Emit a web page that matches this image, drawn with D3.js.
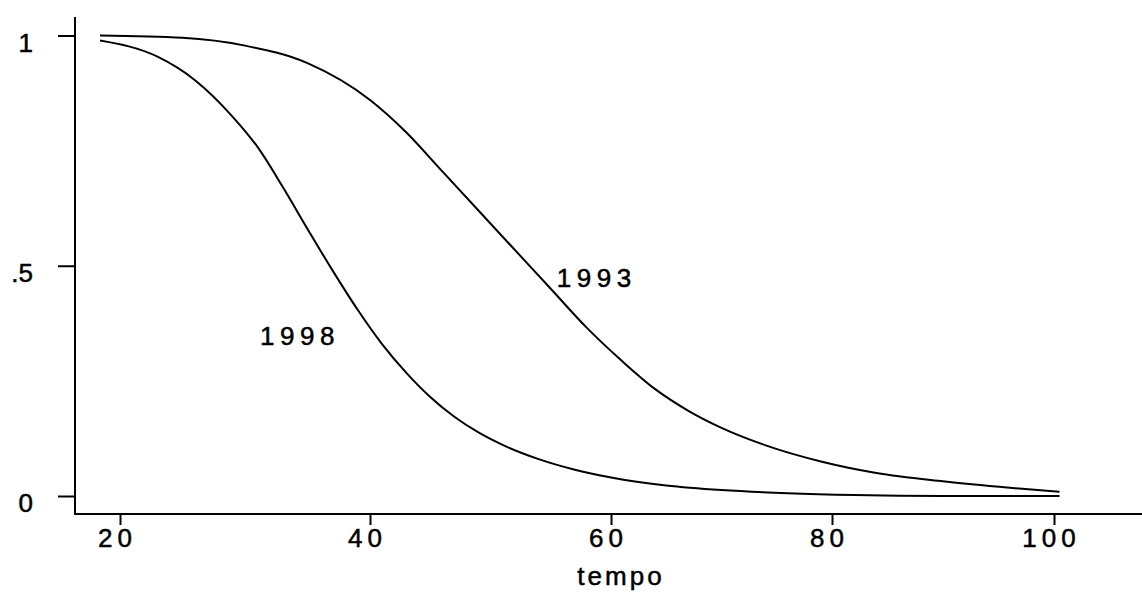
<!DOCTYPE html>
<html>
<head>
<meta charset="utf-8">
<script src="https://cdn.jsdelivr.net/npm/d3@7"></script>
<style>
  html, body { margin: 0; padding: 0; background: #fff; }
  svg { display: block; }
  text { font-family: "Liberation Sans", Arial, Helvetica, sans-serif; fill: #000; }
</style>
</head>
<body>
<script>
// ---- data ----
const xTicks = [20, 40, 60, 80, 100];
const yTicks = [0, 0.5, 1];
const yTickLabels = ["0", ".5", "1"];
const xLabel = "tempo";

const time1993 = [18.4, 25, 30, 35, 40, 43, 46, 49, 52, 55, 58, 61, 64, 67, 70, 74, 79, 84, 90, 96, 100.5];
const surv1993 = [1.000, 0.995, 0.978, 0.940, 0.860, 0.790, 0.705, 0.620, 0.535, 0.450, 0.365, 0.293, 0.232, 0.185, 0.148, 0.110, 0.075, 0.050, 0.032, 0.018, 0.009];

const time1998 = [18.4, 23, 26, 29, 31, 33, 35, 37, 39, 41, 43, 45, 47, 49, 51, 54, 57, 61, 65, 70, 76, 82, 90, 100.5];
const surv1998 = [0.989, 0.954, 0.903, 0.824, 0.758, 0.672, 0.580, 0.490, 0.405, 0.330, 0.268, 0.215, 0.172, 0.138, 0.111, 0.080, 0.057, 0.036, 0.023, 0.013, 0.006, 0.002, 0.000, 0.000];

const seriesNames = ["1993", "1998"];
const labelAt = [{ x: 55.5, y: 0.454 }, { x: 31.2, y: 0.328 }]; // label anchor positions in data units

// ---- drawing ----
const W = 1142, H = 593;
const svg = d3.select("body").append("svg").attr("width", W).attr("height", H);

const x = d3.scaleLinear().domain(xTicks).range([120, 370, 611, 832, 1054]);
const y = d3.scaleLinear().domain([0, 1]).range([496, 35.5]);

const axisLeftX = 75, axisBottomY = 514;
const textStroke = 0.5;

// y axis
const yAxis = svg.append("g").attr("transform", `translate(${axisLeftX},0)`)
  .call(d3.axisLeft(y).tickValues(yTicks).tickSize(17).tickPadding(25)
        .tickFormat((d, i) => yTickLabels[i]));
yAxis.select(".domain").remove();
yAxis.selectAll(".tick line").attr("stroke", "#000").attr("stroke-width", 2);
yAxis.selectAll(".tick text").attr("font-size", 26).attr("dy", "0.6em")
  .attr("stroke", "#000").attr("stroke-width", textStroke);
svg.append("line").attr("x1", axisLeftX).attr("x2", axisLeftX).attr("y1", 17).attr("y2", axisBottomY)
  .attr("stroke", "#000").attr("stroke-width", 2);

// x axis
const xAxis = svg.append("g").attr("transform", `translate(0,${axisBottomY})`)
  .call(d3.axisBottom(x).tickValues(xTicks).tickSize(11).tickPadding(4).tickFormat(d3.format("d")));
xAxis.select(".domain").remove();
xAxis.selectAll(".tick line").attr("stroke", "#000").attr("stroke-width", 2);
xAxis.selectAll(".tick text").attr("font-size", 26).attr("letter-spacing", "5px").attr("dx", "-3px")
  .attr("stroke", "#000").attr("stroke-width", textStroke);
svg.append("line").attr("x1", axisLeftX - 1).attr("x2", W).attr("y1", axisBottomY).attr("y2", axisBottomY)
  .attr("stroke", "#000").attr("stroke-width", 2);

svg.append("text").attr("x", 621).attr("y", 585).attr("text-anchor", "middle")
  .attr("font-size", 26).attr("letter-spacing", "3px")
  .attr("stroke", "#000").attr("stroke-width", textStroke).text(xLabel);

// curves
const line = d3.line().x(d => x(d[0])).y(d => y(d[1])).curve(d3.curveMonotoneX);
const series = [d3.zip(time1993, surv1993), d3.zip(time1998, surv1998)];
svg.selectAll("path.curve").data(series).enter().append("path")
  .attr("class", "curve").attr("d", line)
  .attr("fill", "none").attr("stroke", "#000").attr("stroke-width", 2);

// curve labels
svg.selectAll("text.lab").data(seriesNames).enter().append("text")
  .attr("class", "lab")
  .attr("x", (d, i) => x(labelAt[i].x))
  .attr("y", (d, i) => y(labelAt[i].y))
  .attr("font-size", 26).attr("letter-spacing", "5.5px")
  .attr("stroke", "#000").attr("stroke-width", textStroke)
  .text(d => d);
</script>
</body>
</html>
